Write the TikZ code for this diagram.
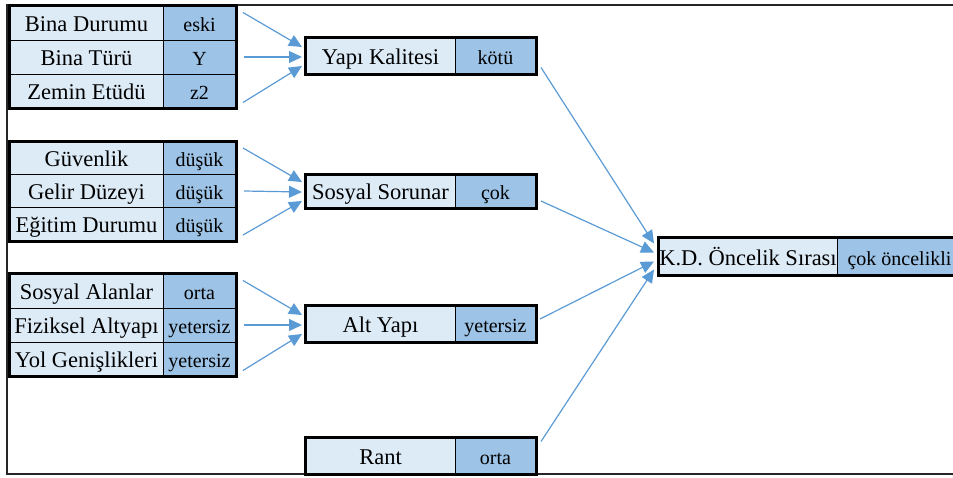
\documentclass[tikz,border=0pt]{standalone}
\usepackage{fontspec}
\setmainfont{Liberation Serif}
\usetikzlibrary{arrows.meta}
\definecolor{cellLight}{HTML}{DDEBF7}
\definecolor{cellDark}{HTML}{9DC3E6}
\definecolor{linkBlue}{HTML}{5B9BD5}
\tikzset{
  cell/.style={draw=black, line width=1pt, inner sep=0pt, anchor=west},
  lab/.style={cell, fill=cellLight, minimum width=154, minimum height=34, text height=19pt, text depth=2pt, font=\fontsize{22.5}{22.5}\selectfont},
  val/.style={cell, fill=cellDark, minimum width=72, minimum height=34, text height=18pt, text depth=1pt, font=\fontsize{20}{20}\selectfont},
  midlab/.style={lab, minimum width=150, minimum height=36},
  midval/.style={val, minimum width=80, minimum height=36},
  grpbox/.style={draw=black, line width=3pt},
  frameline/.style={draw=black!85, line width=2pt},
  link/.style={draw=linkBlue, line width=1.2pt, -{Triangle[length=13pt,width=12pt]}}
}
\begin{document}
\begin{tikzpicture}[x=1pt,y=-1pt]
\useasboundingbox (0,0) rectangle (953,477);
\clip (0,0) rectangle (953,477);
\draw[frameline] (970,5) -- (7,5) -- (7,474) -- (970,474);
\node[lab] (bd) at (9,23) {Bina Durumu};
\node[val] (bdv) at (163,23) {eski};
\node[lab] (bt) at (9,57) {Bina Türü};
\node[val] (btv) at (163,57) {Y};
\node[lab] (ze) at (9,91) {Zemin Etüdü};
\node[val] (zev) at (163,91) {z2};
\draw[grpbox] (bd.north west) rectangle (zev.south east);
\node[lab, minimum height=33] (gu) at (9,158) {Güvenlik};
\node[val, minimum height=33] (guv) at (163,158) {düşük};
\node[lab, minimum height=33] (gd) at (9,191) {Gelir Düzeyi};
\node[val, minimum height=33] (gdv) at (163,191) {düşük};
\node[lab, minimum height=33] (ed) at (9,224) {Eğitim Durumu};
\node[val, minimum height=33] (edv) at (163,224) {düşük};
\draw[grpbox] (gu.north west) rectangle (edv.south east);
\node[lab] (sa) at (9,291) {Sosyal Alanlar};
\node[val] (sav) at (163,291) {orta};
\node[lab] (fa) at (9,325) {Fiziksel Altyapı};
\node[val] (fav) at (163,325) {yetersiz};
\node[lab] (yg) at (9,359) {Yol Genişlikleri};
\node[val] (ygv) at (163,359) {yetersiz};
\draw[grpbox] (sa.north west) rectangle (ygv.south east);
\node[midlab] (yk) at (305,56) {Yapı Kalitesi};
\node[midval] (ykv) at (455,56) {kötü};
\draw[grpbox] (yk.north west) rectangle (ykv.south east);
\node[midlab, minimum height=33] (ss) at (305,191) {Sosyal Sorunar};
\node[midval, minimum height=33] (ssv) at (455,191) {çok};
\draw[grpbox] (ss.north west) rectangle (ssv.south east);
\node[midlab] (ay) at (305,324) {Alt Yapı};
\node[midval] (ayv) at (455,324) {yetersiz};
\draw[grpbox] (ay.north west) rectangle (ayv.south east);
\node[midlab] (rt) at (305,456) {Rant};
\node[midval] (rtv) at (455,456) {orta};
\draw[grpbox] (rt.north west) rectangle (rtv.south east);
\node[lab, minimum width=179, minimum height=37] (kd) at (658,256.5) {K.D. Öncelik Sırası};
\node[val, minimum width=124, minimum height=37] (kdv) at (837,256.5) {çok öncelikli};
\draw[grpbox] (kd.north west) rectangle (kdv.south east);
\draw[link] ([shift={(7,7)}]bdv.north east) -- ([shift={(-3,-9)}]yk.west);
\draw[link] ([shift={(8,0)}]btv.east) -- ([shift={(-3,1)}]yk.west);
\draw[link] ([shift={(7,-6)}]zev.south east) -- ([shift={(-3,10)}]yk.west);
\draw[link] ([shift={(7,7)}]guv.north east) -- ([shift={(-3,-9)}]ss.west);
\draw[link] ([shift={(8,0)}]gdv.east) -- ([shift={(-3,1)}]ss.west);
\draw[link] ([shift={(7,-6)}]edv.south east) -- ([shift={(-3,10)}]ss.west);
\draw[link] ([shift={(7,7)}]sav.north east) -- ([shift={(-3,-9)}]ay.west);
\draw[link] ([shift={(8,0)}]fav.east) -- ([shift={(-3,1)}]ay.west);
\draw[link] ([shift={(7,-6)}]ygv.south east) -- ([shift={(-3,10)}]ay.west);
\draw[link] ([shift={(5,-7)}]ykv.south east) -- ([shift={(-4,-13)}]kd.west);
\draw[link] ([shift={(5,-7)}]ssv.south east) -- ([shift={(-4,-4)}]kd.west);
\draw[link] ([shift={(4,-5)}]ayv.east) -- ([shift={(-4,5)}]kd.west);
\draw[link] ([shift={(5,4)}]rtv.north east) -- ([shift={(-4,13)}]kd.west);
\end{tikzpicture}
\end{document}
